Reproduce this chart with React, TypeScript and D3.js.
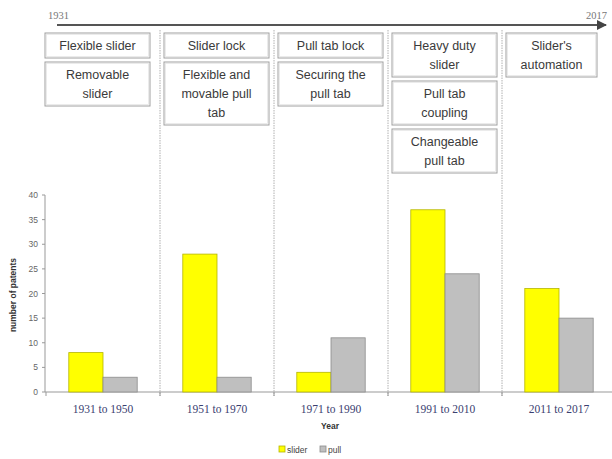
import React from "react"
import * as d3 from "d3"

// periods on the x axis
const periods = ["1931 to 1950", "1951 to 1970", "1971 to 1990", "1991 to 2010", "2011 to 2017"]
const slider = [8, 28, 4, 37, 21]
const pull = [3, 3, 11, 24, 15]
const yTicks = [0, 5, 10, 15, 20, 25, 30, 35, 40]
const seriesNames = ["slider", "pull"]
const timeline = ["1931", "2017"]

// innovation boxes per period, each box is a list of text lines
const innovations: string[][][] = [
  [["Flexible slider"], ["Removable", "slider"]],
  [["Slider lock"], ["Flexible and", "movable pull", "tab"]],
  [["Pull tab lock"], ["Securing the", "pull tab"]],
  [["Heavy duty", "slider"], ["Pull tab", "coupling"], ["Changeable", "pull tab"]],
  [["Slider's", "automation"]],
]

const W = 612
const H = 459
const COLORS = ["#ffff00", "#bfbfbf"]
const EDGES = ["#b5b500", "#8c8c8c"]

export default function App() {
  const x = d3.scaleBand<string>()
    .domain(periods)
    .range([46, 616])
    .paddingInner(0.4)
    .paddingOuter(0.2)
  const step = x.step()
  const x0 = 46
  const y = d3.scaleLinear().domain([0, 40]).range([392, 195])
  const inner = d3.scaleBand<string>()
    .domain(seriesNames)
    .range([0, x.bandwidth()])

  const values = [slider, pull]
  const lineH = 19

  return (
    <svg width={W} height={H} style={{ position: "absolute", left: 0, top: 0, background: "#fff" }}>
      <defs>
        <marker id="arr" viewBox="0 0 10 10" refX="9" refY="5" markerWidth="5" markerHeight="5" orient="auto">
          <path d="M0,0 L10,5 L0,10 z" fill="#444" />
        </marker>
      </defs>

      {/* timeline */}
      <line x1={57} x2={606} y1={25} y2={25} stroke="#555" strokeWidth={2} markerEnd="url(#arr)" />
      <text x={48} y={19} fontFamily="Liberation Serif" fontSize={10.5} fill="#777">{timeline[0]}</text>
      <text x={607} y={19} textAnchor="end" fontFamily="Liberation Serif" fontSize={10.5} fill="#777">{timeline[1]}</text>

      {/* period separators */}
      {periods.slice(1).map((p, i) => {
        const sx = x0 + step * (i + 1)
        return (
          <line key={p} x1={sx} x2={sx} y1={30} y2={396} stroke="#b0b0b0" strokeWidth={1} strokeDasharray="1.5,1" />
        )
      })}

      {/* innovation boxes */}
      {innovations.map((col, i) => {
        const left = x0 + step * i + (i === 0 ? -1 : 4)
        const bw = i === 4 ? 91 : 105
        let top = 33
        return (
          <g key={i}>
            {col.map((lines, j) => {
              const bh = 6 + lineH * lines.length
              const ty = top
              top += bh + 4
              return (
                <g key={j}>
                  <rect x={left} y={ty} width={bw} height={bh} fill="#fff" stroke="#a0a0a0" strokeWidth={1} />
                  <rect x={left + 1.5} y={ty + 1.5} width={bw - 3} height={bh - 3} fill="none" stroke="#e6e6e6" strokeWidth={0.8} />
                  {lines.map((t, k) => (
                    <text key={k} x={left + bw / 2} y={ty + 3 + lineH * k + 14} textAnchor="middle"
                      fontFamily="Liberation Sans, Arial" fontSize={12.5} fill="#3a3a3a">{t}</text>
                  ))}
                </g>
              )
            })}
          </g>
        )
      })}

      {/* axes */}
      <line x1={45} x2={45} y1={195} y2={392} stroke="#999" />
      <line x1={45} x2={612} y1={392} y2={392} stroke="#999" />
      {yTicks.map(t => (
        <g key={t}>
          <line x1={42} x2={45} y1={y(t)} y2={y(t)} stroke="#999" />
          <text x={38} y={y(t) + 3} textAnchor="end" fontFamily="Liberation Sans, Arial" fontSize={8.5} fill="#666">{t}</text>
        </g>
      ))}
      {periods.map((p, i) => (
        <g key={p}>
          <line x1={x0 + step * i} x2={x0 + step * i} y1={392} y2={396} stroke="#999" />
          <text x={(x(p) ?? 0) + x.bandwidth() / 2} y={413} textAnchor="middle"
            fontFamily="Liberation Serif" fontSize={11.5} fill="#3a4070">{p}</text>
        </g>
      ))}
      <text transform="translate(16,295) rotate(-90)" textAnchor="middle" fontFamily="Liberation Sans, Arial"
        fontSize={8.5} fontWeight="bold" fill="#333">number of patents</text>
      <text x={330} y={429} textAnchor="middle" fontFamily="Liberation Sans, Arial" fontSize={8.5}
        fontWeight="bold" fill="#333">Year</text>

      {/* bars */}
      {periods.map((p, i) => (
        <g key={p} transform={`translate(${x(p)},0)`}>
          {seriesNames.map((s, k) => (
            <rect key={s} x={inner(s)} y={y(values[k][i])} width={inner.bandwidth()}
              height={y(0) - y(values[k][i])} fill={COLORS[k]} stroke={EDGES[k]} strokeWidth={0.8} />
          ))}
        </g>
      ))}

      {/* legend */}
      <g transform="translate(279,446)">
        {seriesNames.map((s, k) => (
          <g key={s} transform={`translate(${k * 41},0)`}>
            <rect x={0} y={0} width={6} height={6} fill={COLORS[k]} stroke={EDGES[k]} strokeWidth={0.8} />
            <text x={8} y={6.5} fontFamily="Liberation Sans, Arial" fontSize={8.5} fill="#444">{s}</text>
          </g>
        ))}
      </g>
    </svg>
  )
}
